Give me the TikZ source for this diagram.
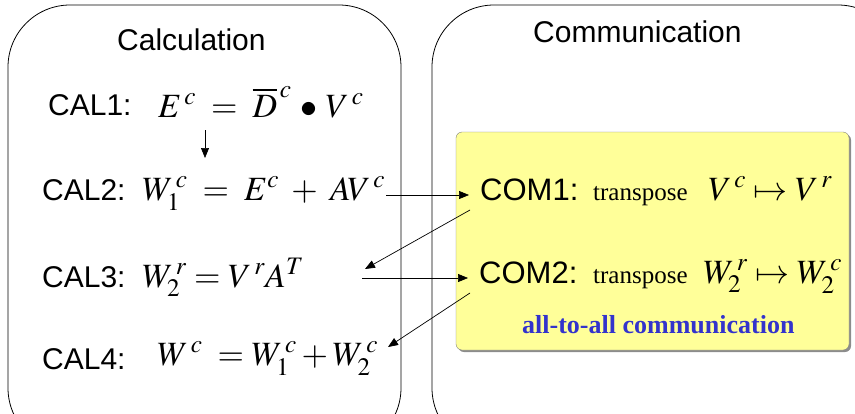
\documentclass[tikz,border=0pt]{standalone}
\usepackage{mathptmx}
\usepackage{fontspec}
\setmainfont{Liberation Serif}
\setsansfont{Liberation Sans}
\usetikzlibrary{arrows.meta}
\definecolor{memoyellow}{RGB}{255,255,153}
\definecolor{alltoallblue}{RGB}{51,51,204}

\begin{document}
\begin{tikzpicture}[x=1pt,y=-1pt,
  lbl/.style={font=\fontsize{30}{34}\selectfont\sffamily, inner sep=0pt, anchor=base west},
  eqn/.style={font=\fontsize{34}{36}\selectfont, inner sep=0pt, anchor=base west},
  conn/.style={-{Triangle[length=10pt,width=8pt]}, line width=0.7pt}]
\useasboundingbox (0,0) rectangle (855,413);
%panels
\draw[line width=0.8pt, rounded corners=62pt] (8,5) rectangle (401,450);
\draw[line width=0.8pt, rounded corners=62pt] (432,5) rectangle (900,450);
\fill[black!45, rounded corners=6pt] (458,134) rectangle (851,352);
\draw[black!50, fill=memoyellow, rounded corners=6pt] (456,132) rectangle (849,350);

%titles
\node[lbl] (calc) at (117,50) {Calculation};
\node[lbl] (comm) at (533,42) {Communication};

%calculation steps
\node[lbl] (cal1) at (48,115) {CAL1:};
\node[eqn] (eq1) at (158,117) {$E^{\,c} \;=\; \overline{D}^{\,c} \,\bullet\, V^{\,c}$};
\node[lbl] (cal2) at (42,200) {CAL2:};
\node[eqn] (eq2) at (142,200) {$W_1^{\,c} \;=\; E^{c} \;+\; A V^{\,c}$};
\node[lbl] (cal3) at (42,287) {CAL3:};
\node[eqn] (eq3) at (142,287) {$W_2^{\,r} = V^{\,r}A^{T}$};
\node[lbl] (cal4) at (42,369) {CAL4:};
\node[eqn] (eq4) at (157,365) {$W^{\,c} \;= W_1^{\,c} + W_2^{\,c}$};

%communication steps
\node[lbl, font=\fontsize{31}{34}\selectfont\sffamily] (com1) at (480,200) {COM1:};
\node[eqn, font=\fontsize{25}{28}\selectfont] (tr1) at (593,200) {transpose};
\node[eqn] (map1) at (708,200) {$V^{\,c} \mapsto V^{\,r}$};
\node[lbl, font=\fontsize{31}{34}\selectfont\sffamily] (com2) at (479,283) {COM2:};
\node[eqn, font=\fontsize{25}{28}\selectfont] (tr2) at (593,283) {transpose};
\node[eqn] (map2) at (703,283) {$W_2^{\,r} \mapsto W_2^{\,c}$};
\node[eqn, font=\fontsize{26}{28}\selectfont\bfseries, text=alltoallblue] (a2a) at (522,333) {all-to-all communication};

%data flow
\draw[conn] ([shift={(47,13)}]eq1.base west) -- ([shift={(63,-42)}]eq2.base west);
\draw[conn] ([shift={(244,-5)}]eq2.base west) -- ([shift={(-11,-5)}]com1.base west);
\draw[conn] ([shift={(-10,10)}]com1.base west) -- ([shift={(223,-18)}]eq3.base west);
\draw[conn] ([shift={(220,-9)}]eq3.base west) -- ([shift={(-11,-5)}]com2.base west);
\draw[conn] ([shift={(-9,10)}]com2.base west) -- ([shift={(231,-18)}]eq4.base west);
\end{tikzpicture}
\end{document}
